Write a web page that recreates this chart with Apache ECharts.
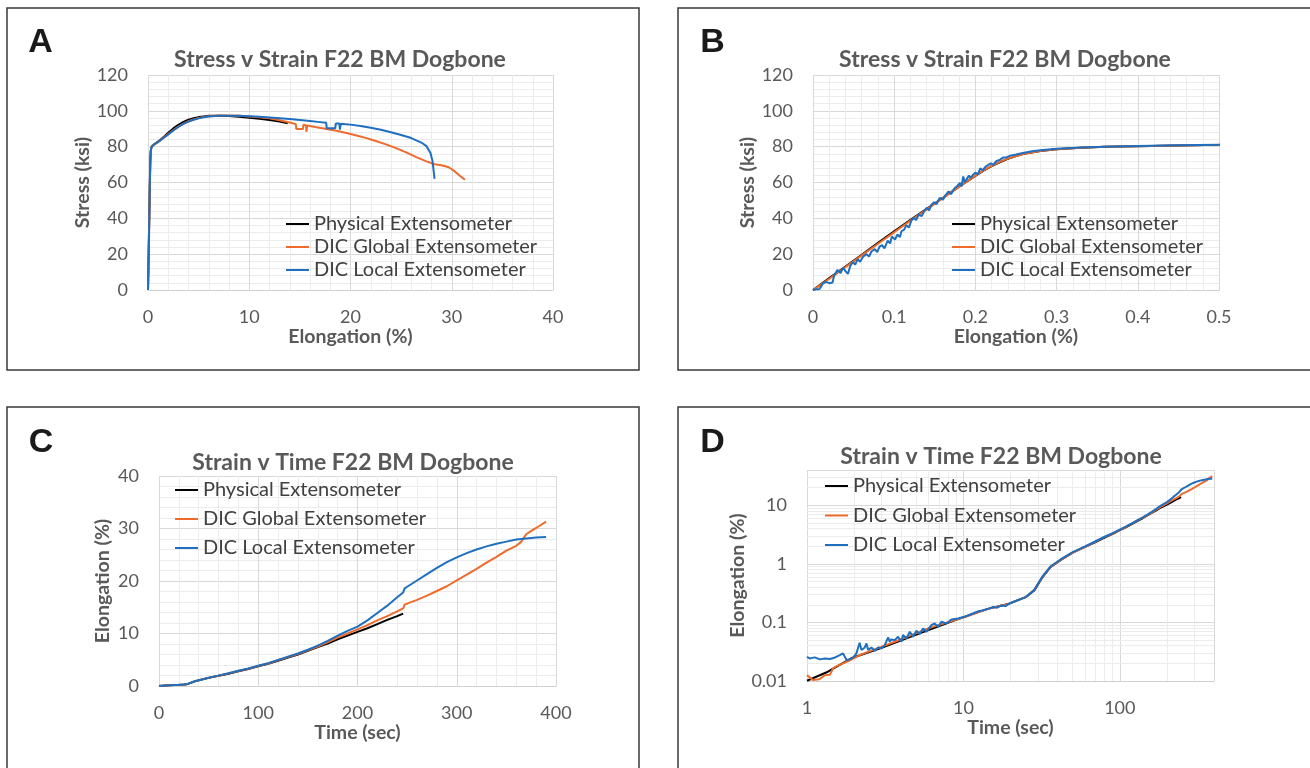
<!DOCTYPE html>
<html>
<head>
<meta charset="utf-8">
<script src="https://cdn.jsdelivr.net/npm/echarts@6/dist/echarts.min.js"></script>
<style>
html,body{margin:0;padding:0;background:#fff;}
#chart{width:1310px;height:768px;}
</style>
</head>
<body>
<div id="chart"></div>
<script>
// ---------------- DATA ----------------
const seriesNames = ['Physical Extensometer', 'DIC Global Extensometer', 'DIC Local Extensometer'];

// Stress (ksi) vs Elongation (%) : [elongation, stress]
const ssPhysical = [[0,0],[0.02,6.6],[0.04,13.1],[0.06,19.7],[0.08,26.3],[0.1,32.8],[0.12,39.1],[0.14,45.3],[0.16,51.5],[0.18,57.7],[0.2,63.7],[0.21,66.6],[0.22,69.1],[0.23,71.3],[0.24,73.2],[0.25,74.7],[0.26,76],[0.28,77.6],[0.3,78.6],[0.33,79.4],[0.36,79.9],[0.4,80.3],[0.45,80.7],[0.5,81],
  [0.8,82],[1.2,83.7],[1.6,85.7],[2,87.8],[2.5,90.2],[3,92.2],[3.5,93.8],[4,95],[4.5,95.9],[5,96.5],[5.5,96.9],[6,97.2],[7,97.3],[8,97.1],[9,96.7],[10,96.2],[11,95.6],[12,94.9],[13,94],[13.8,93.1]];
const ssGlobal = [[0,0],[0.02,6.3],[0.04,12.8],[0.06,19.3],[0.08,25.8],[0.1,32.2],[0.12,38.7],[0.14,45],[0.16,51.3],[0.18,57.6],[0.2,63.8],[0.21,66.8],[0.22,69.3],[0.23,71.5],[0.24,73.3],[0.25,74.8],[0.26,76],[0.28,77.6],[0.3,78.6],[0.33,79.4],[0.36,79.9],[0.4,80.3],[0.45,80.7],[0.5,81],
  [0.8,82],[1.2,83.5],[1.6,85.3],[2,87],[2.5,89.2],[3,91.2],[3.5,92.9],[4,94.2],[4.5,95.2],[5,96],[5.5,96.6],[6,97],[7,97.4],[8,97.4],[9,97.2],[10,96.9],[11,96.4],[12,95.8],[13,94.7],[14,93.5],[14.6,92.6],[14.65,89.8],[15.3,89.8],[15.35,92.2],[15.6,91.9],[15.65,88.3],[15.72,91.8],[16.5,91],[17.5,90],[18.5,89],[19.5,87.8],[20.5,86.4],[21.5,84.9],[22.5,83.2],[23.5,81.3],[24.5,79.2],[25.5,76.8],[26.5,74.2],[27.5,71.8],[28.3,70.2],[29,69.6],[29.7,68.5],[30.3,66.2],[30.8,63.8],[31.3,61.5]];
const ssLocal = [[0,0],[0.004,0.4],[0.008,0.5],[0.012,3.5],[0.016,4.5],[0.02,3.8],[0.024,4.2],[0.026,8],[0.03,11.2],[0.034,9.5],[0.037,12.5],[0.04,10.5],[0.043,9],[0.046,13.5],[0.049,15.5],[0.052,14.2],[0.055,17.2],[0.058,15.8],[0.062,18.8],[0.066,20],[0.069,18.6],[0.072,21.5],[0.076,22.8],[0.079,21.2],[0.082,24.2],[0.085,25],[0.088,23.2],[0.092,27.5],[0.095,26],[0.097,29.8],[0.101,28.2],[0.104,31],[0.107,29.5],[0.109,32.8],[0.112,33.5],[0.115,36.2],[0.118,34.8],[0.121,38.6],[0.124,40.2],[0.127,39],[0.13,42],[0.134,41.2],[0.137,44],[0.14,45.8],[0.143,44.5],[0.146,47.6],[0.149,49],[0.152,47.9],[0.156,51.4],[0.16,50.4],[0.163,52.8],[0.167,55],[0.17,53.5],[0.174,56.6],[0.177,57.8],[0.181,59.7],[0.183,57.9],[0.185,63.4],[0.187,60.2],[0.189,61.6],[0.192,63.9],[0.194,62.6],[0.197,64.3],[0.2,65.5],[0.203,64.6],[0.206,67.9],[0.209,66.8],[0.212,68.6],[0.215,69.6],[0.219,70.7],[0.222,69.9],[0.226,72],[0.23,72.6],[0.234,73.9],[0.238,74],[0.243,75],[0.25,75.6],[0.26,76.6],[0.27,77.5],[0.28,78],[0.3,78.8],[0.33,79.5],[0.36,80],[0.4,80.4],[0.45,80.8],[0.5,81.1],
  [0.8,82],[1.2,83.4],[1.6,85.1],[2,86.8],[2.5,89],[3,91],[3.5,92.7],[4,94],[4.5,95],[5,95.8],[5.5,96.4],[6,96.8],[7,97.2],[8,97.3],[9,97.2],[10,97],[11,96.7],[12,96.3],[13,95.9],[14,95.4],[15,94.9],[16,94.3],[17,93.7],[17.6,93.3],[17.65,90.3],[18.5,90.3],[18.55,93],[18.9,92.9],[18.95,89.5],[19.05,92.8],[20,92.3],[21,91.5],[22,90.5],[23,89.4],[24,88],[25,86.5],[26,84.8],[27,82.3],[27.5,80.3],[27.9,76.5],[28.1,72],[28.2,67],[28.3,62]];

// Elongation (%) vs Time (sec) : [time, elongation]
const stPhysical = [[0,0],[1,0.0101],[1.36,0.0144],[1.92,0.0244],[3,0.037],[5,0.062],[7,0.087],[10,0.123],[14.5,0.172],[19.6,0.209],[25,0.27],[28.4,0.35],[32,0.59],[36,0.88],[42,1.17],[50,1.55],
  [60,1.95],[70,2.35],[80,2.8],[90,3.25],[100,3.75],[110,4.25],[120,4.8],[130,5.4],[140,6.0],[150,6.7],[160,7.4],[170,8.1],[180,8.9],[190,9.6],[200,10.3],[210,11.0],[220,11.8],[230,12.6],[240,13.3],[246,13.8]];
const stGlobal = [[0,0],[1,0.0126],[1.09,0.0104],[1.2,0.0107],[1.3,0.0126],[1.4,0.0128],[1.47,0.0165],[1.54,0.0178],[1.85,0.022],[2.23,0.0285],[3.64,0.0468],[5.94,0.079],[10.2,0.124],[14.5,0.172],[19.6,0.209],[25,0.27],[28.4,0.36],[32,0.6],[36,0.89],[42,1.18],[50,1.55],
  [60,1.95],[70,2.4],[80,2.85],[90,3.3],[100,3.8],[110,4.3],[120,4.9],[130,5.5],[140,6.1],[150,6.8],[160,7.5],[170,8.3],[180,9.2],[190,10.0],[200,10.8],[210,11.6],[220,12.5],[230,13.3],[240,14.2],[246,14.8],[247.5,15.5],[250,15.7],[260,16.4],[270,17.2],[280,18.1],[290,19.0],[300,20.1],[310,21.2],[320,22.3],[330,23.5],[340,24.6],[350,25.8],[360,26.7],[365,27.5],[370,28.9],[374,29.4],[380,30.1],[390,31.3]];
const stLocal = [[0,0],[1.0,0.0259],[1.04,0.0243],[1.12,0.0253],[1.21,0.0234],[1.3,0.0243],[1.4,0.0237],[1.5,0.025],[1.62,0.0277],[1.7,0.0296],[1.79,0.0228],[1.87,0.0234],[1.97,0.025],[2.07,0.0296],[2.17,0.045],[2.23,0.0337],[2.34,0.0374],[2.4,0.0438],[2.46,0.0337],[2.58,0.0374],[2.71,0.0329],[2.85,0.0374],[2.99,0.036],[3.14,0.041],[3.3,0.0555],[3.38,0.0468],[3.46,0.0513],[3.64,0.0499],[3.82,0.0569],[4.01,0.0468],[4.11,0.0608],[4.32,0.0533],[4.54,0.0692],[4.77,0.0569],[5.01,0.0719],[5.26,0.0632],[5.52,0.0789],[5.8,0.0692],[6.24,0.09],[6.55,0.096],[6.89,0.0843],[7.23,0.1026],[7.78,0.096],[8.38,0.112],[9.24,0.1167],[10.2,0.1247],[11.2,0.138],[11.8,0.146],[12.5,0.155],[13.2,0.16],[14.5,0.172],[15.5,0.183],[16.3,0.178],[17.5,0.195],[18.6,0.19],[19.6,0.209],[21,0.225],[25,0.27],[28.4,0.36],[32,0.61],[36,0.9],[42,1.2],[50,1.58],
  [60,1.98],[70,2.43],[80,2.9],[90,3.35],[100,3.85],[110,4.35],[120,4.95],[130,5.6],[140,6.2],[150,6.9],[160,7.7],[170,8.6],[180,9.6],[190,10.5],[200,11.3],[210,12.5],[220,13.9],[230,15.3],[240,16.9],[246,17.8],[247.5,18.6],[250,18.9],[260,20.1],[270,21.3],[280,22.5],[290,23.6],[300,24.5],[310,25.3],[320,26.0],[330,26.6],[340,27.1],[350,27.5],[360,27.9],[370,28.1],[380,28.3],[390,28.4]];

// log-axis minor gridline values (panel D)
const minorLogX = [2,3,4,5,6,7,8,9,20,30,40,50,60,70,80,90,200,300];
const minorLogY = [0.02,0.03,0.04,0.05,0.06,0.07,0.08,0.09,0.2,0.3,0.4,0.5,0.6,0.7,0.8,0.9,2,3,4,5,6,7,8,9,20,30];

const panelTitles = ['Stress v Strain F22 BM Dogbone','Stress v Strain F22 BM Dogbone','Strain v Time F22 BM Dogbone','Strain v Time F22 BM Dogbone'];
const panelLetters = ['A','B','C','D'];

// ---------------- STYLE ----------------
const FONT = 'Lato, "Open Sans", "Liberation Sans", sans-serif';
const COLORS = ['#000000', '#EF6B2C', '#1F6FC0'];
const GRAY = '#595959';
const TICK = 18;
const NAME = 19.5;

const grids = [
  {left:148, top:75, width:405, height:215},
  {left:813, top:75, width:406, height:215},
  {left:159, top:476, width:397, height:210},
  {left:807, top:470, width:407, height:211}
];

function lbl(margin, extra){
  return Object.assign({color:GRAY, fontSize:TICK, fontFamily:FONT, margin:margin}, extra || {});
}
function baseAxis(extra){
  return Object.assign({
    axisTick:{show:false},
    axisLine:{show:false},
    splitLine:{show:true, lineStyle:{color:'#d9d9d9', width:1}},
    minorTick:{show:false, splitNumber:5},
    minorSplitLine:{show:true, lineStyle:{color:'#ececec', width:1}},
    nameLocation:'middle',
    nameTextStyle:{color:GRAY, fontSize:NAME, fontWeight:'bold', fontFamily:FONT}
  }, extra);
}
const xLine = {show:true, lineStyle:{color:'#d0d0d0', width:1}};

const xAxes = [
  baseAxis({gridIndex:0, type:'value', min:0, max:40, interval:10, axisLine:xLine, axisLabel:lbl(18), name:'Elongation (%)', nameGap:26}),
  baseAxis({gridIndex:1, type:'value', min:0, max:0.5, interval:0.1, axisLine:xLine, axisLabel:lbl(18), name:'Elongation (%)', nameGap:26}),
  baseAxis({gridIndex:2, type:'value', min:0, max:400, interval:100, axisLine:xLine, axisLabel:lbl(18), name:'Time (sec)', nameGap:27}),
  baseAxis({gridIndex:3, type:'log', logBase:10, min:1, max:400, axisLine:xLine, axisLabel:lbl(18, {showMaxLabel:false}), minorSplitLine:{show:false}, name:'Time (sec)', nameGap:31})
];
const yAxes = [
  baseAxis({gridIndex:0, type:'value', min:0, max:120, interval:20, axisLabel:lbl(20), name:'Stress (ksi)', nameGap:54}),
  baseAxis({gridIndex:1, type:'value', min:0, max:120, interval:20, axisLabel:lbl(20), name:'Stress (ksi)', nameGap:54}),
  baseAxis({gridIndex:2, type:'value', min:0, max:40, interval:10, axisLabel:lbl(20), name:'Elongation (%)', nameGap:46}),
  baseAxis({gridIndex:3, type:'log', logBase:10, min:0.01, max:40, axisLabel:lbl(20, {showMaxLabel:false}), minorSplitLine:{show:false}, name:'Elongation (%)', nameGap:44})
];

function lineSeries(name, data, gi, color){
  return {type:'line', name:name, data:data, xAxisIndex:gi, yAxisIndex:gi,
    symbol:'none', showSymbol:false, clip:true, z:3,
    lineStyle:{color:color, width:2}, itemStyle:{color:color}};
}
const positive = d => d.filter(p => p[0] > 0 && p[1] > 0);

const series = [];
// minor log gridlines for panel D
series.push({type:'line', name:'_minor', data:[], xAxisIndex:3, yAxisIndex:3, z:1, silent:true,
  markLine:{silent:true, z:1, symbol:['none','none'], label:{show:false}, animation:false,
    lineStyle:{color:'#ececec', type:'solid', width:1},
    emphasis:{disabled:true},
    data: minorLogX.map(v => ({xAxis:v})).concat(minorLogY.map(v => ({yAxis:v})))}});
const ssSets = [ssPhysical, ssGlobal, ssLocal];
const stSets = [stPhysical, stGlobal, stLocal];
for (let k = 0; k < 3; k++) series.push(lineSeries(seriesNames[k], ssSets[k], 0, COLORS[k]));
for (let k = 0; k < 3; k++) series.push(lineSeries(seriesNames[k], ssSets[k], 1, COLORS[k]));
for (let k = 0; k < 3; k++) series.push(lineSeries(seriesNames[k], stSets[k], 2, COLORS[k]));
for (let k = 0; k < 3; k++) series.push(lineSeries(seriesNames[k], positive(stSets[k]), 3, COLORS[k]));

function legend(left, top, gap){
  return {data:seriesNames, orient:'vertical', left:left, top:top, padding:0, itemGap:gap, z:6,
    icon:'rect', itemWidth:23, itemHeight:2, selectedMode:false,
    textStyle:{color:'#404040', fontSize:20, lineHeight:20, fontFamily:FONT}};
}

const frames = [
  {x:7, y:8, w:632, h:362},
  {x:678, y:8, w:645, h:362},
  {x:7, y:407, w:632, h:375},
  {x:678, y:407, w:645, h:375}
];
const titlePos = [[340,60],[1005,60],[353,463],[1001,457]];
const letterPos = [[40.5,43],[712.5,43],[41,442.5],[712.5,443]];

const graphic = [];
frames.forEach(f => graphic.push({type:'rect', shape:{x:f.x, y:f.y, width:f.w, height:f.h}, silent:true,
  style:{fill:'none', stroke:'#383838', lineWidth:1.5}}));
panelTitles.forEach((t, i) => graphic.push({type:'text', x:titlePos[i][0], y:titlePos[i][1], silent:true,
  style:{text:t, fill:GRAY, font:'bold 23px ' + FONT, align:'center', verticalAlign:'middle'}}));
panelLetters.forEach((t, i) => graphic.push({type:'text', x:letterPos[i][0], y:letterPos[i][1], silent:true,
  style:{text:t, fill:'#1a1a1a', font:'bold 34px "Liberation Sans", Arial, sans-serif', align:'center', verticalAlign:'middle'}}));

const chart = echarts.init(document.getElementById('chart'), null, {renderer:'canvas'});
chart.setOption({
  animation:false,
  backgroundColor:'#ffffff',
  textStyle:{fontFamily:FONT},
  grid:grids,
  xAxis:xAxes,
  yAxis:yAxes,
  legend:[legend(286,214,3), legend(952,214,3), legend(175,480,9), legend(825,476,9.5)],
  series:series,
  graphic:graphic
});
</script>
</body>
</html>
